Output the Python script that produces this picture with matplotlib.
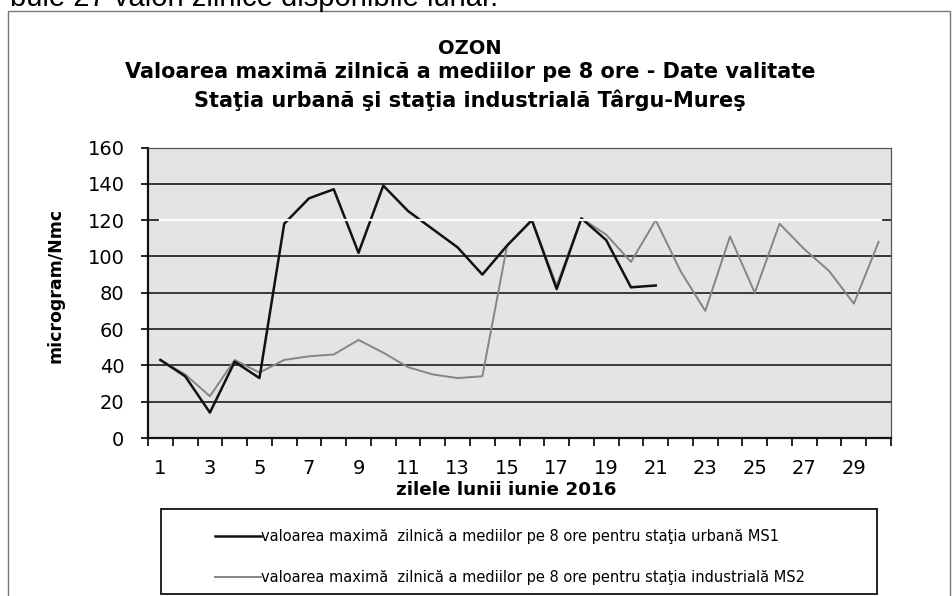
import numpy as np
import matplotlib
matplotlib.use("Agg")
import matplotlib.pyplot as plt
from matplotlib.patches import Rectangle

plt.rcParams['font.family'] = ['DejaVu Sans']

# zilele lunii iunie 2016
days = np.arange(1, 31)
# statia urbana MS1 (date doar pana pe 21)
ms1_days = np.arange(1, 22)
ms1 = [43, 34, 14, 42, 33, 118, 132, 137, 102, 139, 125, 115, 105, 90, 106,
       120, 82, 121, 109, 83, 84]
# statia industriala MS2
ms2 = [43, 35, 23, 43, 36, 43, 45, 46, 54, 47, 39, 35, 33, 34, 106,
       120, 84, 121, 112, 97, 120, 92, 70, 111, 80, 118, 104, 92, 74, 108]

yticks = list(range(0, 161, 20))
xtick_days = list(range(1, 30, 2))

label_ms1 = "valoarea maximă  zilnică a mediilor pe 8 ore pentru staţia urbană MS1"
label_ms2 = "valoarea maximă  zilnică a mediilor pe 8 ore pentru staţia industrială MS2"

W, H = 952, 596
fig = plt.figure(figsize=(W / 100, H / 100), dpi=100)

# text cut from the page above the chart
fig.text(10 / W, 1 - 6 / H, "bule 27 valori zilnice disponibile lunar.",
         fontsize=21, va='baseline', ha='left', family='Liberation Sans')

# outer chart frame
fig.patches.append(Rectangle((8 / W, -0.05), 942 / W, 1.05 - 11 / H,
                             transform=fig.transFigure, fill=False,
                             edgecolor='#777777', lw=1.0))

ax = fig.add_axes([148 / W, 1 - 438 / H, 743 / W, 290.5 / H])
ax.set_facecolor('#e4e4e4')

ax.plot(ms1_days, ms1, color='#111111', lw=1.8, zorder=4, label=label_ms1)
ax.plot(days, ms2, color='#858585', lw=1.4, zorder=3, label=label_ms2)

# white streak of the scan over the 120 line
ax.axhline(120, xmin=0.016, xmax=0.987, color='white', lw=1.6, zorder=6)

ax.set_xlim(0.5, 30.5)
ax.set_ylim(0, 160)
ax.set_yticks(yticks)
ax.grid(axis='y', color='#2b2b2b', lw=1.3, zorder=1)
ax.set_axisbelow(True)

# tick marks between the days, labels on the odd days
ax.set_xticks(np.arange(0.5, 31, 1))
ax.set_xticklabels([])
ax.set_xticks(xtick_days, minor=True)
ax.set_xticklabels([str(d) for d in xtick_days], minor=True)
ax.tick_params(axis='x', which='major', direction='out', length=6, width=1.2)
ax.tick_params(axis='x', which='minor', length=0, pad=15, labelsize=14)
ax.tick_params(axis='y', direction='out', length=5, width=1.2, pad=12, labelsize=14)

for s in ['left', 'bottom']:
    ax.spines[s].set_linewidth(1.6)
    ax.spines[s].set_color('#111111')
for s in ['top', 'right']:
    ax.spines[s].set_linewidth(0.9)
    ax.spines[s].set_color('#555555')

ax.set_ylabel("microgram/Nmc", fontsize=12.5, fontweight='bold')
ax.yaxis.set_label_coords((65 - 148) / 743, (438 - 285) / 290.5)
ax.set_xlabel("zilele lunii iunie 2016", fontsize=13.2, fontweight='bold')
ax.xaxis.label.set_va('center')
ax.xaxis.set_label_coords((506 - 148) / 743, (438 - 490) / 290.5)

# title
tx = 470 / W
fig.text(tx, 1 - 54 / H, "OZON", fontsize=14, fontweight='bold', ha='center', va='baseline')
fig.text(tx, 1 - 78 / H, "Valoarea maximă zilnică a mediilor pe 8 ore - Date valitate",
         fontsize=15, fontweight='bold', ha='center', va='baseline')
fig.text(tx, 1 - 107 / H, "Staţia urbană şi staţia industrială Târgu-Mureş",
         fontsize=15, fontweight='bold', ha='center', va='baseline')

# legend
fig.patches.append(Rectangle((161 / W, 1 - 594 / H), 716 / W, 85 / H,
                             transform=fig.transFigure, fill=False,
                             edgecolor='#222222', lw=1.4))
ax.legend(loc='center', bbox_to_anchor=(510 / W, 1 - 557 / H),
          bbox_transform=fig.transFigure, frameon=False, fontsize=10.5,
          handlelength=3.2, handletextpad=0.0, labelspacing=1.75)

fig.savefig("out.png", dpi=100, facecolor='white')
